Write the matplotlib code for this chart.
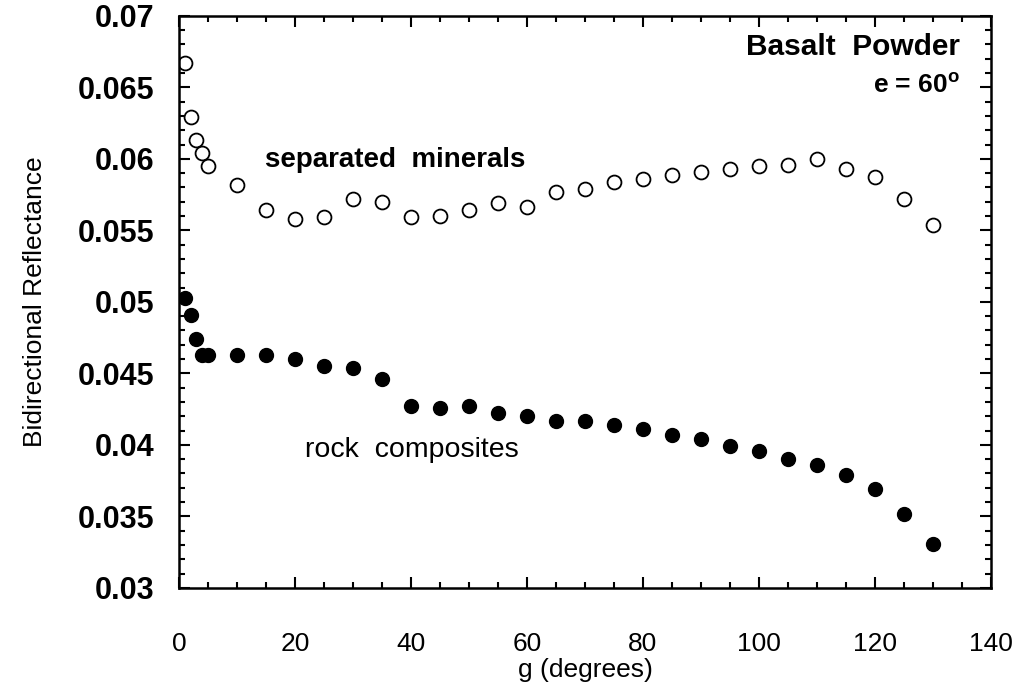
import numpy as np
import matplotlib
matplotlib.use("Agg")
import matplotlib.pyplot as plt
from matplotlib.ticker import MultipleLocator, FuncFormatter

plt.rcParams['font.family'] = ['Liberation Sans', 'DejaVu Sans']

# phase angle g (degrees)
g_deg = [1, 2, 3, 4, 5, 10, 15, 20, 25, 30, 35, 40, 45, 50, 55, 60, 65,
         70, 75, 80, 85, 90, 95, 100, 105, 110, 115, 120, 125, 130]

# separated minerals (open circles)
sep_minerals = [0.0667, 0.0629, 0.0613, 0.0604, 0.0595, 0.0582, 0.0564,
                0.0558, 0.0559, 0.0572, 0.0570, 0.0559, 0.0560, 0.0564,
                0.0569, 0.0566, 0.0577, 0.0579, 0.0584, 0.0586, 0.0589,
                0.0591, 0.0593, 0.0595, 0.0596, 0.0600, 0.0593, 0.0587,
                0.0572, 0.0554]

# rock composites (filled circles)
rock_comp = [0.0503, 0.0491, 0.0474, 0.0463, 0.0463, 0.0463, 0.0463,
             0.0460, 0.0455, 0.0454, 0.0446, 0.0427, 0.0426, 0.0427,
             0.0422, 0.0420, 0.0417, 0.0417, 0.0414, 0.0411, 0.0407,
             0.0404, 0.0399, 0.0396, 0.0390, 0.0386, 0.0379, 0.0369,
             0.0352, 0.0331]

fig = plt.figure(figsize=(10.29, 6.86), dpi=100)
ax = fig.add_axes([0.174, 0.143, 0.789, 0.834])

ax.plot(g_deg, sep_minerals, 'o', ls='none', ms=10, mfc='white', mec='black', mew=1.3)
ax.plot(g_deg, rock_comp, 'o', ls='none', ms=10, mfc='black', mec='black', mew=1.0)

ax.set_xlim(0, 140)
ax.set_ylim(0.03, 0.07)
ax.xaxis.set_major_locator(MultipleLocator(20))
ax.xaxis.set_minor_locator(MultipleLocator(5))
ax.yaxis.set_major_locator(MultipleLocator(0.005))
ax.yaxis.set_minor_locator(MultipleLocator(0.001))
ax.yaxis.set_major_formatter(FuncFormatter(lambda v, p: ('%.3f' % v).rstrip('0')))

ax.tick_params(which='both', direction='in', top=True, right=True, width=1.5)
ax.tick_params(which='major', length=8)
ax.tick_params(which='minor', length=4)
ax.tick_params(axis='x', which='major', pad=32, labelsize=19)
ax.tick_params(axis='y', which='major', pad=18, labelsize=22)
for lab in ax.get_yticklabels():
    lab.set_fontweight('bold')
for sp in ax.spines.values():
    sp.set_linewidth(1.8)

ax.set_xlabel('g (degrees)', fontsize=19, labelpad=1)
ax.set_ylabel('Bidirectional Reflectance', fontsize=19, labelpad=22)

ax.text(0.962, 0.946, 'Basalt  Powder', transform=ax.transAxes, ha='right', va='center',
        fontsize=21.5, fontweight='bold')
ax.text(0.962, 0.879, r'e = 60$^\mathregular{o}$', transform=ax.transAxes, ha='right',
        va='center', fontsize=19, fontweight='bold')
ax.text(14.8, 0.0599, 'separated  minerals', ha='left', va='center', fontsize=20,
        fontweight='bold')
ax.text(21.7, 0.03965, 'rock  composites', ha='left', va='center', fontsize=20.5)

fig.savefig('out.png', dpi=100)
